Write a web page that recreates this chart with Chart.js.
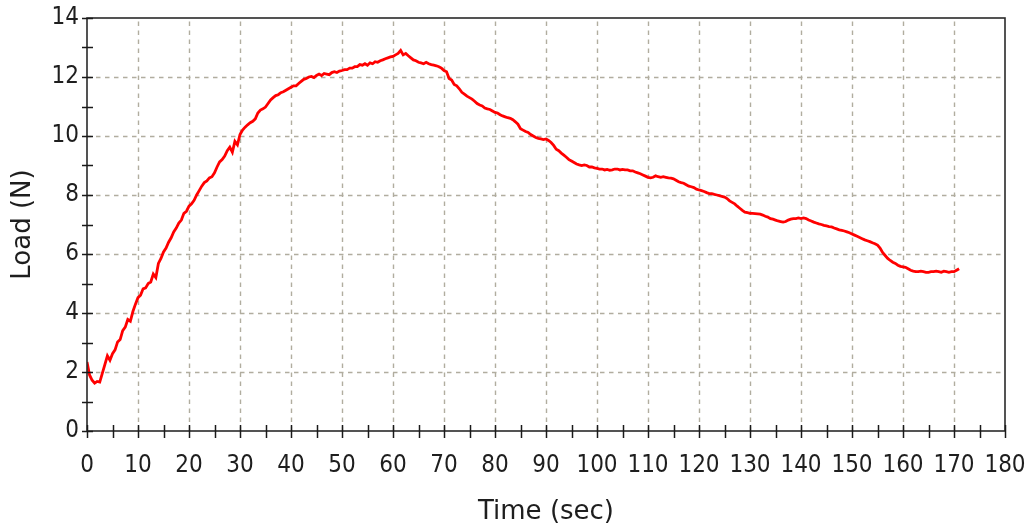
<!DOCTYPE html>
<html>
<head>
<meta charset="utf-8">
<script src="https://cdn.jsdelivr.net/npm/chart.js@4/dist/chart.umd.min.js"></script>
<style>
  html, body { margin: 0; padding: 0; background: #ffffff; }
  #c { display: block; }
</style>
</head>
<body>
<canvas id="c" width="1033" height="525"></canvas>
<script>
// ---- Data ----
const xAxisTitle = "Time (sec)";
const yAxisTitle = "Load (N)";
const xTickValues = [0,10,20,30,40,50,60,70,80,90,100,110,120,130,140,150,160,170,180];
const yTickValues = [0,2,4,6,8,10,12,14];

// sample times (s), every 0.5 s
const timeSec = [
  0,0.5,1,1.5,2,2.5,3,3.5,4,4.5,5,5.5,6,6.5,7,7.5,8,8.5,9,9.5,
  10,10.5,11,11.5,12,12.5,13,13.5,14,14.5,15,15.5,16,16.5,17,17.5,18,18.5,19,19.5,
  20,20.5,21,21.5,22,22.5,23,23.5,24,24.5,25,25.5,26,26.5,27,27.5,28,28.5,29,29.5,
  30,30.5,31,31.5,32,32.5,33,33.5,34,34.5,35,35.5,36,36.5,37,37.5,38,38.5,39,39.5,
  40,40.5,41,41.5,42,42.5,43,43.5,44,44.5,45,45.5,46,46.5,47,47.5,48,48.5,49,49.5,
  50,50.5,51,51.5,52,52.5,53,53.5,54,54.5,55,55.5,56,56.5,57,57.5,58,58.5,59,59.5,
  60,60.5,61,61.5,62,62.5,63,63.5,64,64.5,65,65.5,66,66.5,67,67.5,68,68.5,69,69.5,
  70,70.5,71,71.5,72,72.5,73,73.5,74,74.5,75,75.5,76,76.5,77,77.5,78,78.5,79,79.5,
  80,80.5,81,81.5,82,82.5,83,83.5,84,84.5,85,85.5,86,86.5,87,87.5,88,88.5,89,89.5,
  90,90.5,91,91.5,92,92.5,93,93.5,94,94.5,95,95.5,96,96.5,97,97.5,98,98.5,99,99.5,
  100,100.5,101,101.5,102,102.5,103,103.5,104,104.5,105,105.5,106,106.5,107,107.5,108,108.5,109,109.5,
  110,110.5,111,111.5,112,112.5,113,113.5,114,114.5,115,115.5,116,116.5,117,117.5,118,118.5,119,119.5,
  120,120.5,121,121.5,122,122.5,123,123.5,124,124.5,125,125.5,126,126.5,127,127.5,128,128.5,129,129.5,
  130,130.5,131,131.5,132,132.5,133,133.5,134,134.5,135,135.5,136,136.5,137,137.5,138,138.5,139,139.5,
  140,140.5,141,141.5,142,142.5,143,143.5,144,144.5,145,145.5,146,146.5,147,147.5,148,148.5,149,149.5,
  150,150.5,151,151.5,152,152.5,153,153.5,154,154.5,155,155.5,156,156.5,157,157.5,158,158.5,159,159.5,
  160,160.5,161,161.5,162,162.5,163,163.5,164,164.5,165,165.5,166,166.5,167,167.5,168,168.5,169,169.5,
  170,170.5,171
];

// load (N) at each sample time
const loadN = [
  2.34,1.90,1.72,1.62,1.68,1.66,1.95,2.25,2.55,2.40,2.62,2.75,3.02,3.10,3.40,3.52,3.78,3.72,4.05,4.30,
  4.52,4.60,4.82,4.85,5.00,5.05,5.32,5.20,5.68,5.85,6.07,6.20,6.40,6.55,6.75,6.88,7.05,7.15,7.38,7.45,
  7.62,7.70,7.82,8.00,8.15,8.30,8.42,8.48,8.58,8.62,8.75,8.95,9.12,9.20,9.32,9.50,9.62,9.45,9.82,9.70,
  10.05,10.20,10.30,10.38,10.45,10.50,10.58,10.78,10.88,10.92,10.98,11.10,11.22,11.30,11.37,11.40,11.47,11.50,11.55,11.60,
  11.65,11.70,11.70,11.78,11.85,11.92,11.95,12.00,12.02,11.98,12.05,12.10,12.05,12.12,12.10,12.08,12.15,12.18,12.15,12.20,
  12.22,12.25,12.25,12.30,12.30,12.35,12.35,12.42,12.40,12.45,12.40,12.48,12.45,12.52,12.50,12.55,12.58,12.62,12.65,12.68,
  12.70,12.75,12.80,12.90,12.75,12.80,12.72,12.65,12.58,12.55,12.50,12.48,12.45,12.50,12.45,12.42,12.40,12.38,12.35,12.30,
  12.22,12.18,11.95,11.90,11.75,11.70,11.60,11.48,11.42,11.35,11.30,11.25,11.18,11.10,11.05,11.02,10.95,10.92,10.90,10.85,
  10.80,10.78,10.72,10.68,10.65,10.62,10.60,10.55,10.48,10.40,10.25,10.20,10.15,10.12,10.05,10.00,9.95,9.92,9.90,9.88,
  9.90,9.85,9.78,9.68,9.55,9.50,9.42,9.35,9.28,9.20,9.15,9.10,9.05,9.02,9.00,9.02,9.00,8.95,8.95,8.92,
  8.90,8.88,8.88,8.85,8.87,8.84,8.85,8.88,8.88,8.85,8.87,8.85,8.85,8.82,8.82,8.78,8.75,8.72,8.68,8.64,
  8.60,8.58,8.60,8.65,8.62,8.60,8.62,8.60,8.58,8.57,8.55,8.50,8.45,8.42,8.40,8.35,8.30,8.28,8.25,8.20,
  8.17,8.15,8.12,8.08,8.05,8.05,8.02,8.00,7.98,7.95,7.93,7.88,7.80,7.75,7.70,7.62,7.55,7.48,7.42,7.40,
  7.38,7.38,7.37,7.36,7.35,7.32,7.28,7.25,7.20,7.18,7.15,7.12,7.10,7.08,7.10,7.15,7.18,7.20,7.20,7.22,
  7.20,7.22,7.20,7.15,7.12,7.08,7.05,7.02,7.00,6.97,6.95,6.93,6.92,6.88,6.85,6.82,6.80,6.78,6.75,6.72,
  6.68,6.64,6.60,6.56,6.52,6.48,6.45,6.42,6.38,6.35,6.30,6.20,6.05,5.95,5.85,5.78,5.72,5.68,5.62,5.58,
  5.56,5.55,5.50,5.45,5.42,5.40,5.40,5.42,5.40,5.38,5.38,5.40,5.40,5.42,5.40,5.38,5.42,5.40,5.38,5.40,
  5.40,5.45,5.50
];

const points = timeSec.map((t, i) => ({ x: t, y: loadN[i] }));

const tickFont = { family: "'DejaVu Sans Condensed', 'Liberation Sans', sans-serif", size: 24 };
const titleFont = { family: "'DejaVu Sans', sans-serif", size: 26 };

// Custom frame: dashed grid, solid border and crossing tick marks, all via the chart's scales
const framePlugin = {
  id: 'frame',
  beforeDatasetsDraw(chart) {
    const { ctx, chartArea: a, scales: { x, y } } = chart;
    ctx.save();
    ctx.strokeStyle = '#b1ad9f';
    ctx.lineWidth = 1.4;
    ctx.setLineDash([4.5, 4.5]);
    xTickValues.forEach(v => {
      if (v <= x.min || v >= x.max) return;
      const px = Math.round(x.getPixelForValue(v)) + 0.5;
      ctx.beginPath(); ctx.moveTo(px, a.bottom); ctx.lineTo(px, a.top); ctx.stroke();
    });
    yTickValues.forEach(v => {
      if (v <= y.min || v >= y.max) return;
      const py = Math.round(y.getPixelForValue(v)) + 0.5;
      ctx.beginPath(); ctx.moveTo(a.left, py); ctx.lineTo(a.right, py); ctx.stroke();
    });
    ctx.restore();
  },
  afterDatasetsDraw(chart) {
    const { ctx, chartArea: a, scales: { x, y } } = chart;
    ctx.save();
    ctx.setLineDash([]);
    ctx.strokeStyle = '#2a2a2a';
    ctx.lineWidth = 1.6;
    ctx.strokeRect(a.left, a.top, a.right - a.left, a.bottom - a.top);
    ctx.lineWidth = 1.5;
    ctx.strokeStyle = '#1a1a1a';
    // x ticks every 5 s
    for (let v = x.min; v <= x.max; v += 5) {
      const px = Math.round(x.getPixelForValue(v)) + 0.5;
      ctx.beginPath(); ctx.moveTo(px, a.bottom - 6); ctx.lineTo(px, a.bottom + 7); ctx.stroke();
    }
    // y ticks every 1 N
    for (let v = y.min; v <= y.max; v += 1) {
      const py = Math.round(y.getPixelForValue(v)) + 0.5;
      ctx.beginPath(); ctx.moveTo(a.left - 5, py); ctx.lineTo(a.left + 6, py); ctx.stroke();
    }
    ctx.restore();
  }
};

new Chart(document.getElementById('c'), {
  type: 'scatter',
  data: {
    datasets: [{
      data: points,
      showLine: true,
      borderColor: '#ff0000',
      backgroundColor: '#ff0000',
      borderWidth: 2.8,
      pointRadius: 0,
      tension: 0
    }]
  },
  options: {
    responsive: false,
    animation: false,
    events: [],
    layout: { padding: { top: 18, right: 28, left: 0, bottom: 0 } },
    plugins: { legend: { display: false }, tooltip: { enabled: false } },
    scales: {
      x: {
        type: 'linear',
        min: 0, max: 180,
        afterBuildTicks(scale) { scale.ticks = xTickValues.map(v => ({ value: v })); },
        afterFit(scale) { scale.height = 94; scale.paddingLeft = 0; scale.paddingRight = 0; },
        grid: { display: false, drawTicks: false },
        border: { display: false },
        ticks: { color: '#1e1e1e', font: tickFont, padding: 20, maxRotation: 0, autoSkip: false },
        title: { display: true, text: xAxisTitle, color: '#1e1e1e', font: titleFont, padding: { top: 4, bottom: -3 } }
      },
      y: {
        type: 'linear',
        min: 0, max: 14,
        afterBuildTicks(scale) { scale.ticks = yTickValues.map(v => ({ value: v })); },
        afterFit(scale) { scale.width = 87; scale.paddingTop = 0; scale.paddingBottom = 0; },
        grid: { display: false, drawTicks: false },
        border: { display: false },
        ticks: { color: '#1e1e1e', font: tickFont, padding: 8, autoSkip: false },
        title: { display: true, text: yAxisTitle, color: '#1e1e1e', font: titleFont, padding: { top: 8, bottom: 0 } }
      }
    }
  },
  plugins: [framePlugin]
});
</script>
</body>
</html>
